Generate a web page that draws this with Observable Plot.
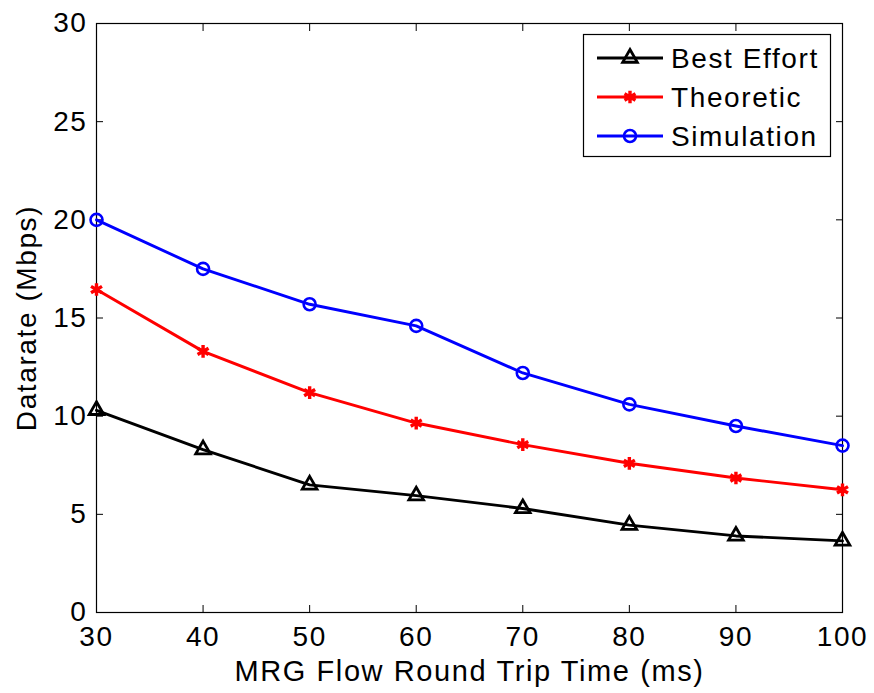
<!DOCTYPE html>
<html>
<head>
<meta charset="utf-8">
<script src="https://cdn.jsdelivr.net/npm/d3@7"></script>
<script src="https://cdn.jsdelivr.net/npm/@observablehq/plot@0.6"></script>
<style>
  html, body { margin: 0; padding: 0; background: #fff; }
  #chart { position: relative; width: 874px; height: 693px; }
  #legend { position: absolute; left: 0; top: 0; }
  svg text { font-family: "Liberation Sans", Arial, Helvetica, sans-serif; letter-spacing: 1.6px; }
</style>
</head>
<body>
<div id="chart"></div>
<script>
// Round trip time of the MRG flow (ms)
const rtt = [30, 40, 50, 60, 70, 80, 90, 100];

// Datarate (Mbps) for each approach
const bestEffort = [10.3, 8.3, 6.5, 5.95, 5.3, 4.45, 3.9, 3.65];
const theoretic  = [16.45, 13.3, 11.2, 9.65, 8.55, 7.6, 6.85, 6.25];
const simulation = [20.0, 17.5, 15.7, 14.6, 12.2, 10.6, 9.5, 8.5];

const seriesNames = ["Best Effort", "Theoretic", "Simulation"];
const seriesColors = ["#000000", "#ff0000", "#0000ff"];
const seriesSymbols = ["triangle2", "asterisk", "circle"];

const xTicks = [30, 40, 50, 60, 70, 80, 90, 100];
const yTicks = [0, 5, 10, 15, 20, 25, 30];

const rows = (name, values) => rtt.map((t, i) => ({series: name, rtt: t, rate: values[i]}));
const data = [
  ...rows("Best Effort", bestEffort),
  ...rows("Theoretic", theoretic),
  ...rows("Simulation", simulation)
];

const fontSize = 28;
const lineWidth = 2.9;
// marker radius and stroke width per series
const symbolR = [7, 6, 6];
const symbolW = [2.8, 3.4, 2.6];

const dotsFor = (i) => Plot.dot(data.filter(d => d.series === seriesNames[i]), {
  x: "rtt", y: "rate", symbol: "series", stroke: "series",
  r: symbolR[i], strokeWidth: symbolW[i], fill: "none"
});

const chart = Plot.plot({
  width: 874,
  height: 693,
  marginLeft: 96,
  marginRight: 32,
  marginTop: 23,
  marginBottom: 81,
  style: {background: "#fff", fontSize: fontSize + "px", fontFamily: "'Liberation Sans', Arial, Helvetica, sans-serif", color: "#000"},
  x: {domain: [30, 100]},
  y: {domain: [0, 30]},
  color: {domain: seriesNames, range: seriesColors},
  symbol: {domain: seriesNames, range: seriesSymbols},
  marks: [
    // inward ticks on all four sides
    Plot.axisX(xTicks, {anchor: "bottom", tickSize: -7, fill: "none", label: null, strokeWidth: 1}),
    Plot.axisX(xTicks, {anchor: "top", tickSize: -7, fill: "none", label: null, strokeWidth: 1}),
    Plot.axisY(yTicks, {anchor: "left", tickSize: -7, fill: "none", label: null, strokeWidth: 1}),
    Plot.axisY(yTicks, {anchor: "right", tickSize: -7, fill: "none", label: null, strokeWidth: 1}),
    // tick labels
    Plot.axisX(xTicks, {anchor: "bottom", tickSize: 0, tickPadding: 14, label: null}),
    Plot.axisY(yTicks, {
      anchor: "left", tickSize: 0, tickPadding: 9,
      label: "Datarate (Mbps)", labelAnchor: "center", labelArrow: "none", labelOffset: 80
    }),
    // x axis title
    Plot.axisX(xTicks, {
      anchor: "bottom", tickSize: 0, tickFormat: () => "", fontSize: 29,
      label: "MRG Flow Round Trip Time (ms)", labelAnchor: "center", labelArrow: "none", labelOffset: 68
    }),
    Plot.frame({stroke: "#000", strokeWidth: 1.2}),
    Plot.line(data, {x: "rtt", y: "rate", z: "series", stroke: "series", strokeWidth: lineWidth}),
    dotsFor(0),
    dotsFor(1),
    dotsFor(2)
  ]
});

const container = document.getElementById("chart");
container.appendChild(chart);

// Legend box in the upper right corner of the frame
const legend = d3.select(container).append("svg")
  .attr("id", "legend")
  .attr("width", 874)
  .attr("height", 693);

const box = {x: 583.5, y: 34.5, w: 247, h: 122};
legend.append("rect")
  .attr("x", box.x).attr("y", box.y).attr("width", box.w).attr("height", box.h)
  .attr("fill", "#fff").attr("stroke", "#000").attr("stroke-width", 1.2);

const symbolTypes = {triangle2: d3.symbolTriangle2, asterisk: d3.symbolAsterisk, circle: d3.symbolCircle};

seriesNames.forEach((name, i) => {
  const cy = 58 + i * 39;
  const g = legend.append("g");
  g.append("line")
    .attr("x1", 597).attr("x2", 663).attr("y1", cy).attr("y2", cy)
    .attr("stroke", seriesColors[i]).attr("stroke-width", lineWidth);
  g.append("path")
    .attr("transform", `translate(630,${cy})`)
    .attr("d", d3.symbol(symbolTypes[seriesSymbols[i]], Math.PI * symbolR[i] * symbolR[i])())
    .attr("fill", "none").attr("stroke", seriesColors[i]).attr("stroke-width", symbolW[i]);
  g.append("text")
    .attr("x", 671).attr("y", cy).attr("dy", "0.36em")
    .attr("font-size", fontSize + "px")
    .attr("fill", "#000")
    .text(name);
});
</script>
</body>
</html>
